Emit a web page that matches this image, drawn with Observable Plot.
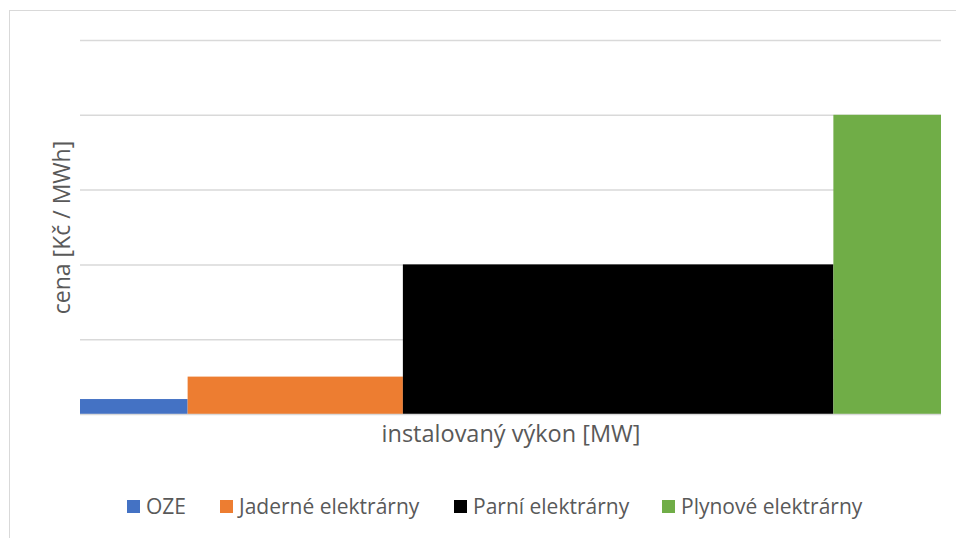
<!DOCTYPE html>
<html>
<head>
<meta charset="utf-8">
<script src="https://cdn.jsdelivr.net/npm/d3@7"></script>
<script src="https://cdn.jsdelivr.net/npm/@observablehq/plot@0.6"></script>
<style>
  html, body { margin: 0; padding: 0; background: #fff; }
  body { width: 956px; height: 538px; overflow: hidden; position: relative; font-family: "Open Sans", "Liberation Sans", sans-serif; }
  #frame { position: absolute; left: 9px; top: 10px; width: 1000px; height: 600px; border-left: 1.5px solid #d9d9d9; border-top: 1.5px solid #d9d9d9; }
  #chart { position: absolute; left: 0; top: 0; }
  #legend { position: absolute; left: 0; top: 492px; width: 956px; height: 28px; font-size: 21px; color: #595959; }
  .item { position: absolute; top: 0; height: 28px; display: flex; align-items: center; white-space: nowrap; }
  .sw { width: 13px; height: 13px; margin-right: 6px; }
</style>
</head>
<body>
<div id="frame"></div>
<div id="chart"></div>
<div id="legend"></div>
<script>
const sources = ["OZE", "Jaderné elektrárny", "Parní elektrárny", "Plynové elektrárny"];
const capacity = [1, 2, 4, 1];          // instalovaný výkon (relative)
const price = [0.2, 0.5, 2, 4];          // cena (relative)
const colors = ["#4472C4", "#ED7D31", "#000000", "#70AD47"];
const gridValues = [0, 1, 2, 3, 4, 5];
const xLabel = "instalovaný výkon [MW]";
const yLabel = "cena [Kč / MWh]";
const legendLeft = [127, 220, 454, 662];

let acc = 0;
const data = sources.map((s, i) => {
  const x1 = acc; acc += capacity[i];
  return { source: s, x1, x2: acc, price: price[i] };
});

const chart = Plot.plot({
  width: 956,
  height: 460,
  marginLeft: 80,
  marginRight: 15,
  marginTop: 40,
  marginBottom: 46,
  x: { domain: [0, d3.sum(capacity)], axis: null },
  y: { domain: [0, 5], axis: null },
  color: { domain: sources, range: colors },
  style: { fontFamily: "Open Sans, Liberation Sans, sans-serif", background: "transparent" },
  marks: [
    Plot.ruleY(gridValues.slice(1), { stroke: "#d9d9d9", strokeWidth: 1.5 }),
    Plot.rectY(data, { x1: "x1", x2: "x2", y: "price", fill: "source" }),
    Plot.ruleY([0], { stroke: "#d9d9d9", strokeWidth: 1.5 }),
    Plot.text([yLabel], { frameAnchor: "left", dx: -18, rotate: -90, fontSize: 23, fill: "#595959", textAnchor: "middle", lineAnchor: "middle" }),
    Plot.text([xLabel], { frameAnchor: "bottom", dy: 20, fontSize: 23.5, fill: "#595959", textAnchor: "middle", lineAnchor: "middle" })
  ]
});
document.getElementById("chart").appendChild(chart);

const legend = document.getElementById("legend");
sources.forEach((s, i) => {
  const it = document.createElement("div");
  it.className = "item";
  it.style.left = legendLeft[i] + "px";
  const sw = document.createElement("span");
  sw.className = "sw";
  sw.style.background = colors[i];
  const t = document.createElement("span");
  t.textContent = s;
  it.appendChild(sw); it.appendChild(t);
  legend.appendChild(it);
});
</script>
</body>
</html>
